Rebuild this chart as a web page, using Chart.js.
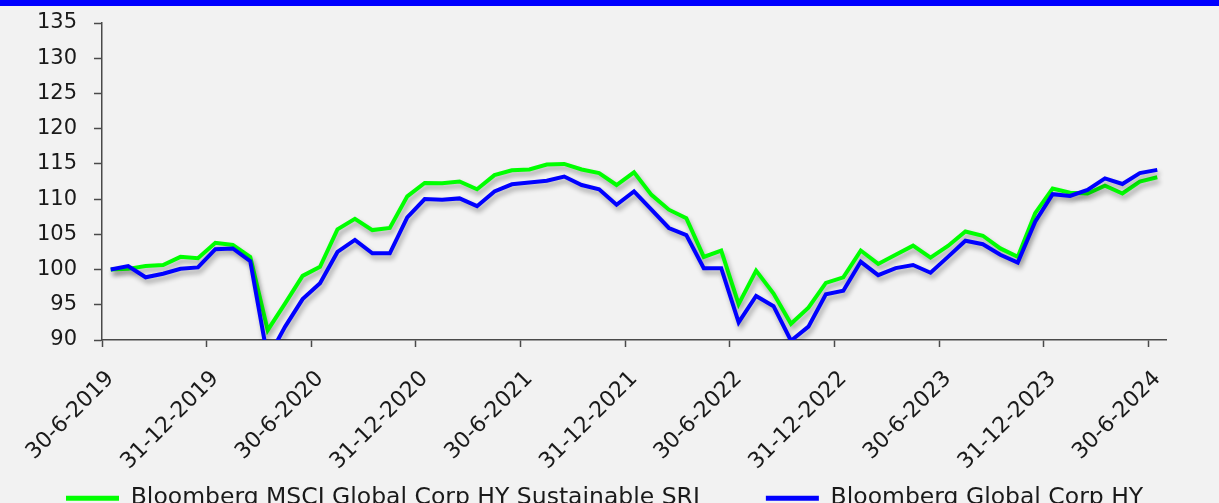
<!DOCTYPE html>
<html>
<head>
<meta charset="utf-8">
<script src="https://cdn.jsdelivr.net/npm/chart.js@4.4.1/dist/chart.umd.min.js"></script>
<style>
  html, body { margin: 0; padding: 0; background: #f2f2f2; overflow: hidden; width: 1219px; height: 503px; }
  #band { position: absolute; left: 0; top: 0; width: 1219px; height: 6px; background: #0000ff; z-index: 2; }
  #wrap { position: absolute; left: 0; top: 0; width: 1219px; height: 520px; }
</style>
</head>
<body>
<div id="band"></div>
<div id="wrap"><canvas id="c" width="1219" height="520"></canvas></div>
<script>
// ---- data ----
const categories = [
  '30-6-2019','31-7-2019','31-8-2019','30-9-2019','31-10-2019','30-11-2019','31-12-2019',
  '31-1-2020','29-2-2020','31-3-2020','30-4-2020','31-5-2020','30-6-2020','31-7-2020','31-8-2020','30-9-2020','31-10-2020','30-11-2020','31-12-2020',
  '31-1-2021','28-2-2021','31-3-2021','30-4-2021','31-5-2021','30-6-2021','31-7-2021','31-8-2021','30-9-2021','31-10-2021','30-11-2021','31-12-2021',
  '31-1-2022','28-2-2022','31-3-2022','30-4-2022','31-5-2022','30-6-2022','31-7-2022','31-8-2022','30-9-2022','31-10-2022','30-11-2022','31-12-2022',
  '31-1-2023','28-2-2023','31-3-2023','30-4-2023','31-5-2023','30-6-2023','31-7-2023','31-8-2023','30-9-2023','31-10-2023','30-11-2023','31-12-2023',
  '31-1-2024','29-2-2024','31-3-2024','30-4-2024','31-5-2024','30-6-2024'
];
const sustainableSRI = [
  100.0, 100.1, 100.5, 100.65, 101.8, 101.6, 103.8,
  103.5, 101.8, 91.4, 95.2, 99.1, 100.4, 105.7, 107.2, 105.6, 105.9, 110.4, 112.3,
  112.25, 112.5, 111.4, 113.4, 114.1, 114.2, 114.9, 115.0, 114.2, 113.7, 112.0, 113.8,
  110.6, 108.5, 107.3, 101.8, 102.7, 95.1, 99.85, 96.6, 92.3, 94.6, 98.1, 98.9,
  102.7, 100.8, 102.1, 103.4, 101.7, 103.35, 105.4, 104.8, 103.0, 101.8, 108.0, 111.5,
  110.9, 110.8, 111.9, 110.8, 112.5, 113.1
];
const globalCorpHY = [
  100.0, 100.5, 98.9, 99.4, 100.1, 100.3, 102.9,
  103.0, 101.2, 87.4, 91.9, 95.8, 98.05, 102.5, 104.2, 102.3, 102.3, 107.4, 110.0,
  109.9, 110.1, 109.0, 111.1, 112.1, 112.35, 112.6, 113.2, 112.0, 111.4, 109.2, 111.1,
  108.5, 105.9, 104.9, 100.2, 100.2, 92.5, 96.25, 94.8, 89.9, 91.9, 96.5, 97.0,
  101.1, 99.2, 100.2, 100.65, 99.55, 101.8, 104.1, 103.6, 102.1, 101.0, 106.8, 110.7,
  110.45, 111.3, 112.95, 112.15, 113.7, 114.15
];
const xTickLabels = ['30-6-2019','31-12-2019','30-6-2020','31-12-2020','30-6-2021','31-12-2021',
                     '30-6-2022','31-12-2022','30-6-2023','31-12-2023','30-6-2024'];
const yMin = 90, yMax = 135, yStep = 5;
const seriesNames = ['Bloomberg MSCI Global Corp HY Sustainable SRI', 'Bloomberg Global Corp HY'];

// ---- chart ----
const FONT = 'DejaVu Sans';
const TEXT = '#1a1a1a';
const AXIS = '#4a4a4a';

const shadowPlugin = {
  id: 'lineShadow',
  beforeDatasetDraw(chart) {
    const ctx = chart.ctx;
    ctx.save();
    ctx.shadowColor = 'rgba(0,0,0,0.32)';
    ctx.shadowBlur = 5;
    ctx.shadowOffsetX = 2;
    ctx.shadowOffsetY = 4;
  },
  afterDatasetDraw(chart) {
    chart.ctx.restore();
  }
};

new Chart(document.getElementById('c'), {
  type: 'line',
  data: {
    labels: categories,
    datasets: [
      { label: seriesNames[1], data: globalCorpHY, borderColor: '#0000ff', backgroundColor: '#0000ff',
        borderWidth: 4, pointRadius: 0, tension: 0, fill: false,
        clip: { left: 5, top: 5, right: 5, bottom: 0 } },
      { label: seriesNames[0], data: sustainableSRI, borderColor: '#00ff00', backgroundColor: '#00ff00',
        borderWidth: 4, pointRadius: 0, tension: 0, fill: false,
        clip: { left: 5, top: 5, right: 5, bottom: 0 } }
    ]
  },
  options: {
    responsive: false,
    animation: false,
    devicePixelRatio: 1,
    layout: { padding: { top: 23, right: 0, left: 0, bottom: 0 } },
    plugins: {
      tooltip: { enabled: false },
      legend: {
        position: 'bottom',
        align: 'start',
        reverse: true,
        labels: {
          font: { family: FONT, size: 23.5 },
          color: TEXT,
          boxWidth: 53,
          boxHeight: 5,
          padding: 66,
          generateLabels(chart) {
            const items = Chart.defaults.plugins.legend.labels.generateLabels(chart);
            items.forEach(it => { it.fillStyle = it.strokeStyle; it.lineWidth = 0; });
            return items;
          }
        }
      }
    },
    scales: {
      x: {
        type: 'category',
        offset: true,
        border: { display: true, color: AXIS, width: 1.5 },
        grid: {
          offset: true,
          drawOnChartArea: false,
          drawTicks: true,
          tickLength: 7,
          tickWidth: 1.5,
          tickColor: (ctx) => (ctx.index % 6 === 0 ? AXIS : 'rgba(0,0,0,0)')
        },
        ticks: {
          autoSkip: false,
          maxRotation: 45,
          minRotation: 45,
          padding: 19,
          color: TEXT,
          font: { family: FONT, size: 22 },
          callback(value) {
            const lab = this.getLabelForValue(value);
            return xTickLabels.includes(lab) ? lab : '';
          }
        },
        afterFit(s) {
          const lh = s.chart.legend ? s.chart.legend.height : 40;
          s.height = Math.max(s.chart.height - 340 - lh, 10);
          // let the rotated labels run past the axis box (the legend row below has empty top padding)
          s._computeLabelArea = function () { return undefined; };
        }
      },
      y: {
        min: yMin,
        max: yMax,
        border: { display: true, color: AXIS, width: 1.5 },
        grid: { drawOnChartArea: false, drawTicks: true, tickLength: 8, tickWidth: 1.5, color: AXIS },
        ticks: {
          stepSize: yStep,
          padding: 17,
          color: TEXT,
          font: { family: FONT, size: 21 }
        },
        afterFit(s) {
          s.width = 102;
          s.paddingTop = 12;
          s.paddingBottom = 12;
        }
      },
      yRightSpace: {
        position: 'right',
        min: yMin,
        max: yMax,
        border: { display: false },
        grid: { display: false, drawTicks: false },
        ticks: { display: false },
        afterFit(s) { s.width = 53; s.paddingTop = 0; s.paddingBottom = 0; }
      }
    }
  },
  plugins: [shadowPlugin]
});
</script>
</body>
</html>
